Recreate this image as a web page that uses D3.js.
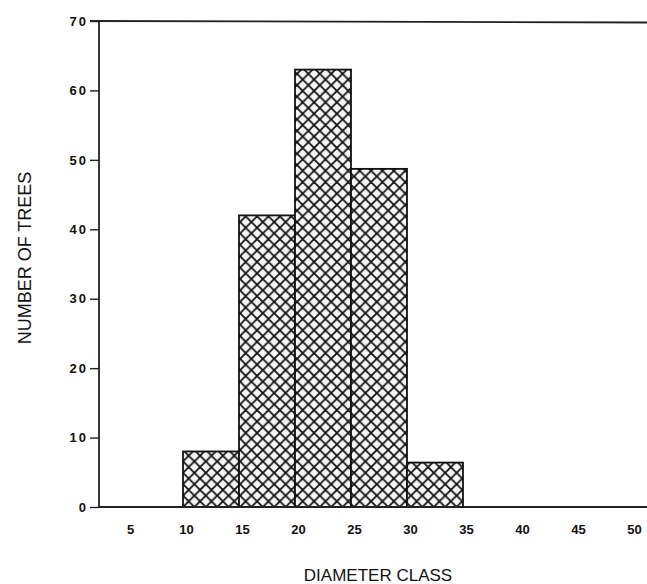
<!DOCTYPE html>
<html>
<head>
<meta charset="utf-8">
<script src="https://cdn.jsdelivr.net/npm/d3@7"></script>
<style>
  html, body { margin: 0; padding: 0; background: #fff; }
  svg { display: block; }
</style>
</head>
<body>
<svg id="chart" width="647" height="584"></svg>
<script>
// ---- data ----
const binStarts = [5, 10, 15, 20, 25, 30, 35, 40, 45];
const binWidth = 5;
const counts = [0, 8, 42, 63, 48.7, 6.4, 0, 0, 0];
const xTickValues = [5, 10, 15, 20, 25, 30, 35, 40, 45, 50];
const yTickValues = [0, 10, 20, 30, 40, 50, 60, 70];
const xTitle = "DIAMETER CLASS";
const yTitle = "NUMBER OF TREES";

// ---- layout ----
const svg = d3.select("#chart");
const mLeft = 99, mTop = 21, mBottom = 507, mRight = 647;

const x = d3.scaleLinear().domain([2.5, 51.43]).range([mLeft, mRight]);
const y = d3.scaleLinear().domain([0, 70]).range([mBottom, mTop]);

// hatch pattern
const P = 11.4;
const defs = svg.append("defs");
const pat = defs.append("pattern")
  .attr("id", "hatch")
  .attr("patternUnits", "userSpaceOnUse")
  .attr("width", P).attr("height", P)
  .attr("x", x(10)).attr("y", mBottom);
pat.append("rect").attr("width", P).attr("height", P).attr("fill", "#f6f6f6");
const h = P / 2;
pat.append("path")
  .attr("d", `M-1,-1 L${P+1},${P+1} M${P+1},-1 L-1,${P+1} M${-h-1},${h-1} L${h+1},${P+h+1} M${h-1},${-h-1} L${P+h+1},${h+1} M${h-1},${P+h+1} L${P+h+1},${h-1} M${-h-1},${h+1} L${h+1},${-h-1}`)
  .attr("stroke", "#111").attr("stroke-width", 1.8).attr("fill", "none");

const bins = binStarts.map((s, i) => ({ start: s, count: counts[i] }));

// bars
svg.append("g").selectAll("rect")
  .data(bins.filter(d => d.count > 0))
  .join("rect")
  .attr("x", d => x(d.start))
  .attr("y", d => y(d.count))
  .attr("width", d => x(d.start + binWidth) - x(d.start))
  .attr("height", d => y(0) - y(d.count))
  .attr("fill", "url(#hatch)")
  .attr("stroke", "#111")
  .attr("stroke-width", 1.8);

// y axis
const yAxis = d3.axisLeft(y).tickValues(yTickValues).tickSize(9).tickPadding(2).tickFormat(d3.format("d"));
const gy = svg.append("g").attr("transform", `translate(${mLeft},0)`).call(yAxis);
gy.select(".domain").attr("stroke", "#222").attr("stroke-width", 1.8).attr("d", `M0,${mTop}V${mBottom}`);
gy.selectAll(".tick line").attr("stroke", "#222").attr("stroke-width", 1.4);
gy.selectAll(".tick text")
  .attr("font-family", "Liberation Sans, Arial, sans-serif")
  .attr("letter-spacing", 2)
  .attr("font-size", 13).attr("font-weight", "bold").attr("fill", "#111");

// x axis
const xAxis = d3.axisBottom(x).tickValues(xTickValues).tickSize(0).tickPadding(18).tickFormat(d3.format("d"));
const gx = svg.append("g").attr("transform", `translate(0,${mBottom})`).call(xAxis);
gx.select(".domain").attr("stroke", "#222").attr("stroke-width", 1.8).attr("d", `M${mLeft},0H${mRight}`);
gx.selectAll(".tick text")
  .attr("dx", 3)
  .attr("font-family", "Liberation Sans, Arial, sans-serif")
  .attr("font-size", 13).attr("font-weight", "bold").attr("fill", "#111");

// top frame line
svg.append("line")
  .attr("x1", mLeft - 9).attr("x2", mRight)
  .attr("y1", y(70)).attr("y2", y(70) + 1.5)
  .attr("stroke", "#222").attr("stroke-width", 1.8);

// titles
svg.append("text")
  .attr("x", 378).attr("y", 581)
  .attr("text-anchor", "middle")
  .attr("font-family", "Liberation Sans, Arial, sans-serif")
  .attr("font-size", 17).attr("fill", "#111")
  .text(xTitle);

svg.append("text")
  .attr("transform", `translate(31,258) rotate(-90)`)
  .attr("text-anchor", "middle")
  .attr("font-family", "Liberation Sans, Arial, sans-serif")
  .attr("font-size", 18).attr("fill", "#111")
  .text(yTitle);
</script>
</body>
</html>
